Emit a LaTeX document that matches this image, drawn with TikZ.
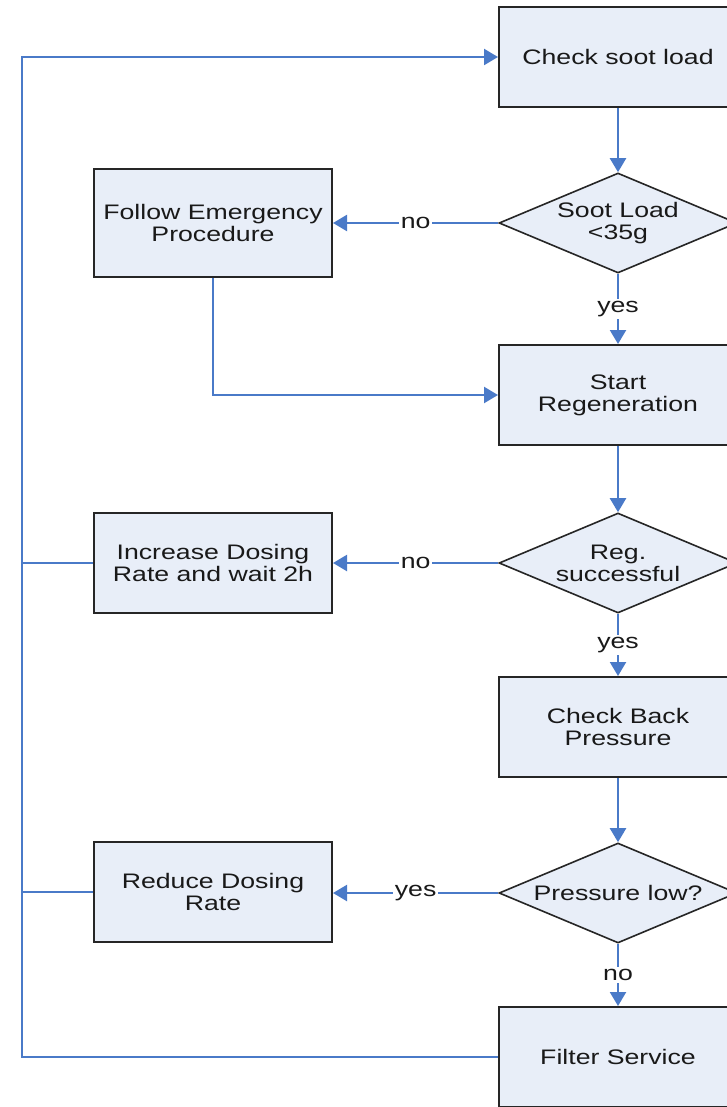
\documentclass[tikz,border=0pt]{standalone}
\usepackage{fontspec}
\setmainfont{Liberation Sans}[FakeStretch=1.27]
\usetikzlibrary{shapes.geometric,arrows.meta}
\definecolor{flowblue}{HTML}{4A7AC8}
\definecolor{boxfill}{HTML}{E8EEF8}
\definecolor{boxline}{HTML}{262626}

\begin{document}
\begin{tikzpicture}[x=0.5pt,y=-0.5pt,
  every node/.style={font=\fontsize{10.5}{11}\selectfont,text=black!90},
  procbox/.style={rectangle,draw=boxline,line width=1pt,fill=boxfill,align=center,
    minimum width=119pt,minimum height=50pt,inner sep=0pt},
  decision/.style={diamond,draw=boxline,line width=0.8pt,fill=boxfill,align=center,
    aspect=2.38,minimum width=119pt,minimum height=50pt,inner sep=0pt},
  flow/.style={draw=flowblue,line width=1.1pt,-{Triangle[length=7pt,width=8pt]}},
  link/.style={draw=flowblue,line width=1.1pt},
  lbl/.style={fill=white,inner sep=1pt}]
  \useasboundingbox (0,0) rectangle (727,1107);
  \clip (0,0) rectangle (727,1107);
  \fill[white] (0,0) rectangle (727,1107);

  \node[procbox] (check) at (618,57) {Check soot load};
  \node[decision] (soot) at (618,223) {Soot Load\\<35g};
  \node[procbox,minimum height=54pt] (emerg) at (213,223) {Follow Emergency\\Procedure};
  \node[procbox] (start) at (618,395) {Start\\Regeneration};
  \node[decision] (regok) at (618,563) {Reg.\\successful};
  \node[procbox] (incr) at (213,563) {Increase Dosing\\Rate and wait 2h};
  \node[procbox] (backp) at (618,727) {Check Back\\Pressure};
  \node[decision] (plow) at (618,893) {Pressure low?};
  \node[procbox] (reduce) at (213,892) {Reduce Dosing\\Rate};
  \node[procbox] (filter) at (618,1057) {Filter Service};
  \coordinate (rail) at (22,1057);

  \draw[flow] (check) -- (soot);
  \draw[flow] (soot) -- node[lbl] {no} (emerg);
  \draw[flow] (soot) -- node[lbl] {yes} (start);
  \draw[flow] (emerg.south) |- (start.west);
  \draw[flow] (start) -- (regok);
  \draw[flow] (regok) -- node[lbl] {no} (incr);
  \draw[flow] (regok) -- node[lbl] {yes} (backp);
  \draw[flow] (backp) -- (plow);
  \draw[flow] (plow.west) -- node[lbl] {yes} (reduce.east |- plow.west);
  \draw[flow] (plow) -- node[lbl] {no} (filter);
  \draw[flow] (filter.west) -- (rail) |- (check.west);
  \draw[link] (incr.west) -- (incr.west -| rail);
  \draw[link] (reduce.west) -- (reduce.west -| rail);
\end{tikzpicture}
\end{document}
